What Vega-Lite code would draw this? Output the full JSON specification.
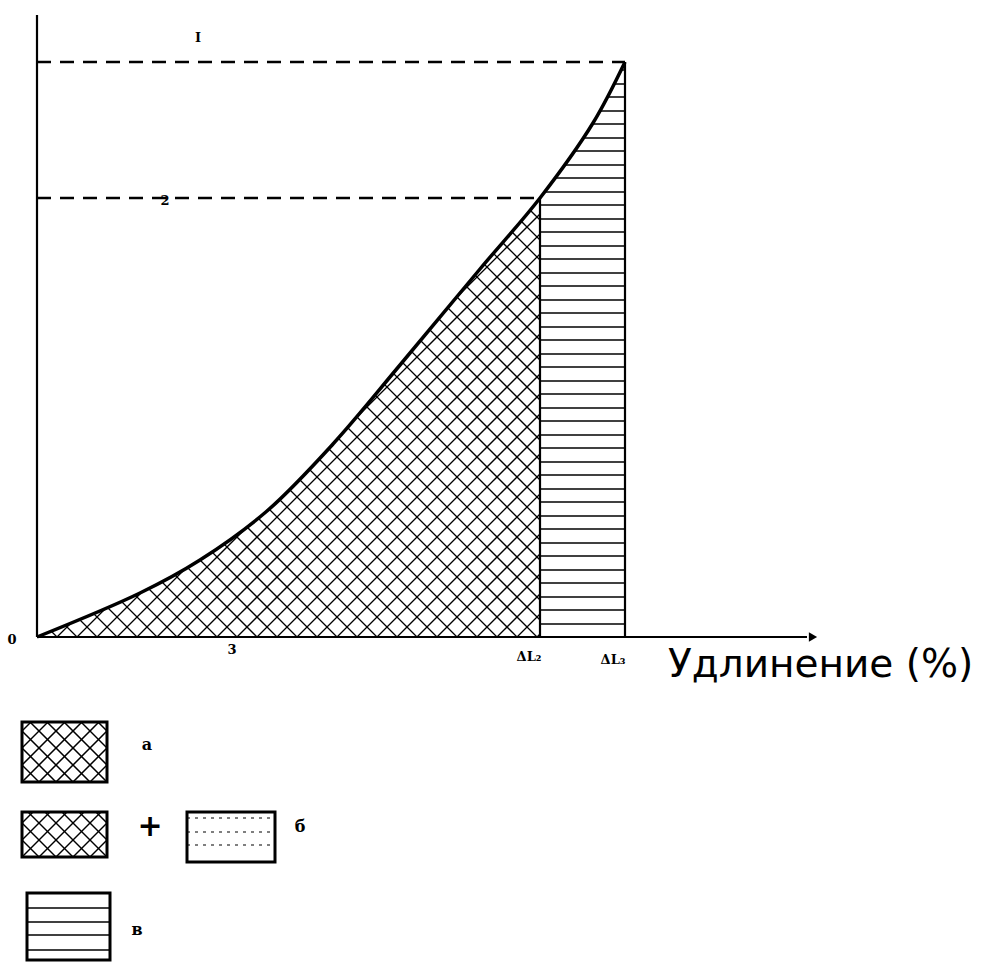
{
  "$schema": "https://vega.github.io/schema/vega-lite/v6.json",
  "width": 780,
  "height": 622,
  "autosize": {"type": "none"},
  "padding": {"left": 37, "top": 15, "right": 178, "bottom": 326},
  "background": "white",
  "config": {"view": {"stroke": null}},
  "datasets": {
    "curve": [
      {"x": 0, "y": 0}, {"x": 10.3, "y": 4.4}, {"x": 16.3, "y": 7.7}, {"x": 23, "y": 12.6},
      {"x": 29.6, "y": 19.3}, {"x": 36.3, "y": 27.2}, {"x": 44.3, "y": 36.8}, {"x": 50.3, "y": 43.9},
      {"x": 55.6, "y": 51.4}, {"x": 58.8, "y": 57.5}
    ],
    "diag": [
      {"x": -44, "y": 0, "x2": 1, "y2": 45}, {"x": -42, "y": 0, "x2": 3, "y2": 45}, {"x": -40, "y": 0, "x2": 5, "y2": 45},
      {"x": -38, "y": 0, "x2": 7, "y2": 45}, {"x": -36, "y": 0, "x2": 9, "y2": 45}, {"x": -34, "y": 0, "x2": 11, "y2": 45},
      {"x": -32, "y": 0, "x2": 13, "y2": 45}, {"x": -30, "y": 0, "x2": 15, "y2": 45}, {"x": -28, "y": 0, "x2": 17, "y2": 45},
      {"x": -26, "y": 0, "x2": 19, "y2": 45}, {"x": -24, "y": 0, "x2": 21, "y2": 45}, {"x": -22, "y": 0, "x2": 23, "y2": 45},
      {"x": -20, "y": 0, "x2": 25, "y2": 45}, {"x": -18, "y": 0, "x2": 27, "y2": 45}, {"x": -16, "y": 0, "x2": 29, "y2": 45},
      {"x": -14, "y": 0, "x2": 31, "y2": 45}, {"x": -12, "y": 0, "x2": 33, "y2": 45}, {"x": -10, "y": 0, "x2": 35, "y2": 45},
      {"x": -8, "y": 0, "x2": 37, "y2": 45}, {"x": -6, "y": 0, "x2": 39, "y2": 45}, {"x": -4, "y": 0, "x2": 41, "y2": 45},
      {"x": -2, "y": 0, "x2": 43, "y2": 45}, {"x": 0, "y": 0, "x2": 45, "y2": 45}, {"x": 2, "y": 0, "x2": 47, "y2": 45},
      {"x": 4, "y": 0, "x2": 49, "y2": 45}, {"x": 6, "y": 0, "x2": 51, "y2": 45}, {"x": 8, "y": 0, "x2": 53, "y2": 45},
      {"x": 10, "y": 0, "x2": 55, "y2": 45}, {"x": 12, "y": 0, "x2": 57, "y2": 45}, {"x": 14, "y": 0, "x2": 59, "y2": 45},
      {"x": 16, "y": 0, "x2": 61, "y2": 45}, {"x": 18, "y": 0, "x2": 63, "y2": 45}, {"x": 20, "y": 0, "x2": 65, "y2": 45},
      {"x": 22, "y": 0, "x2": 67, "y2": 45}, {"x": 24, "y": 0, "x2": 69, "y2": 45}, {"x": 26, "y": 0, "x2": 71, "y2": 45},
      {"x": 28, "y": 0, "x2": 73, "y2": 45}, {"x": 30, "y": 0, "x2": 75, "y2": 45}, {"x": 32, "y": 0, "x2": 77, "y2": 45},
      {"x": 34, "y": 0, "x2": 79, "y2": 45}, {"x": 36, "y": 0, "x2": 81, "y2": 45}, {"x": 38, "y": 0, "x2": 83, "y2": 45},
      {"x": 40, "y": 0, "x2": 85, "y2": 45}, {"x": 42, "y": 0, "x2": 87, "y2": 45}, {"x": 44, "y": 0, "x2": 89, "y2": 45},
      {"x": 46, "y": 0, "x2": 91, "y2": 45}, {"x": 48, "y": 0, "x2": 93, "y2": 45}, {"x": 50, "y": 0, "x2": 95, "y2": 45},
      {"x": 2, "y": 0, "x2": -43, "y2": 45}, {"x": 4, "y": 0, "x2": -41, "y2": 45}, {"x": 6, "y": 0, "x2": -39, "y2": 45},
      {"x": 8, "y": 0, "x2": -37, "y2": 45}, {"x": 10, "y": 0, "x2": -35, "y2": 45}, {"x": 12, "y": 0, "x2": -33, "y2": 45},
      {"x": 14, "y": 0, "x2": -31, "y2": 45}, {"x": 16, "y": 0, "x2": -29, "y2": 45}, {"x": 18, "y": 0, "x2": -27, "y2": 45},
      {"x": 20, "y": 0, "x2": -25, "y2": 45}, {"x": 22, "y": 0, "x2": -23, "y2": 45}, {"x": 24, "y": 0, "x2": -21, "y2": 45},
      {"x": 26, "y": 0, "x2": -19, "y2": 45}, {"x": 28, "y": 0, "x2": -17, "y2": 45}, {"x": 30, "y": 0, "x2": -15, "y2": 45},
      {"x": 32, "y": 0, "x2": -13, "y2": 45}, {"x": 34, "y": 0, "x2": -11, "y2": 45}, {"x": 36, "y": 0, "x2": -9, "y2": 45},
      {"x": 38, "y": 0, "x2": -7, "y2": 45}, {"x": 40, "y": 0, "x2": -5, "y2": 45}, {"x": 42, "y": 0, "x2": -3, "y2": 45},
      {"x": 44, "y": 0, "x2": -1, "y2": 45}, {"x": 46, "y": 0, "x2": 1, "y2": 45}, {"x": 48, "y": 0, "x2": 3, "y2": 45},
      {"x": 50, "y": 0, "x2": 5, "y2": 45}, {"x": 52, "y": 0, "x2": 7, "y2": 45}, {"x": 54, "y": 0, "x2": 9, "y2": 45},
      {"x": 56, "y": 0, "x2": 11, "y2": 45}, {"x": 58, "y": 0, "x2": 13, "y2": 45}, {"x": 60, "y": 0, "x2": 15, "y2": 45},
      {"x": 62, "y": 0, "x2": 17, "y2": 45}, {"x": 64, "y": 0, "x2": 19, "y2": 45}, {"x": 66, "y": 0, "x2": 21, "y2": 45},
      {"x": 68, "y": 0, "x2": 23, "y2": 45}, {"x": 70, "y": 0, "x2": 25, "y2": 45}, {"x": 72, "y": 0, "x2": 27, "y2": 45},
      {"x": 74, "y": 0, "x2": 29, "y2": 45}, {"x": 76, "y": 0, "x2": 31, "y2": 45}, {"x": 78, "y": 0, "x2": 33, "y2": 45},
      {"x": 80, "y": 0, "x2": 35, "y2": 45}, {"x": 82, "y": 0, "x2": 37, "y2": 45}, {"x": 84, "y": 0, "x2": 39, "y2": 45},
      {"x": 86, "y": 0, "x2": 41, "y2": 45}, {"x": 88, "y": 0, "x2": 43, "y2": 45}, {"x": 90, "y": 0, "x2": 45, "y2": 45},
      {"x": 92, "y": 0, "x2": 47, "y2": 45}, {"x": 94, "y": 0, "x2": 49, "y2": 45}
    ],
    "hlines": [
      {"y": 1.3}, {"y": 2.7}, {"y": 4.0}, {"y": 5.4}, {"y": 6.7}, {"y": 8.1}, {"y": 9.4}, {"y": 10.8},
      {"y": 12.1}, {"y": 13.5}, {"y": 14.8}, {"y": 16.2}, {"y": 17.5}, {"y": 18.9}, {"y": 20.2}, {"y": 21.6},
      {"y": 22.9}, {"y": 24.3}, {"y": 25.6}, {"y": 27.0}, {"y": 28.3}, {"y": 29.7}, {"y": 31.0}, {"y": 32.4},
      {"y": 33.7}, {"y": 35.1}, {"y": 36.4}, {"y": 37.8}, {"y": 39.1}, {"y": 40.5}, {"y": 41.8}, {"y": 43.2},
      {"y": 44.5}, {"y": 45.9}, {"y": 47.2}, {"y": 48.6}, {"y": 49.9}, {"y": 51.3}, {"y": 52.6}, {"y": 54.0},
      {"y": 55.3}, {"y": 56.7}
    ],
    "dashed": [
      {"x": 0, "y": 57.5, "x2": 58.8, "y2": 57.5},
      {"x": 0, "y": 43.9, "x2": 50.3, "y2": 43.9}
    ],
    "solid": [
      {"x": 0, "y": 0, "x2": 0, "y2": 62.2},
      {"x": 0, "y": 0, "x2": 77, "y2": 0},
      {"x": 50.3, "y": 0, "x2": 50.3, "y2": 43.9},
      {"x": 58.8, "y": 0, "x2": 58.8, "y2": 57.5}
    ],
    "legendHatch": [
      {"x": -1.5, "y": -9.4, "x2": -0.6, "y2": -8.5}, {"x": -1.5, "y": -11.1, "x2": 1.1, "y2": -8.5},
      {"x": -1.5, "y": -12.8, "x2": 2.8, "y2": -8.5}, {"x": -1.5, "y": -14.5, "x2": 4.5, "y2": -8.5},
      {"x": 0.2, "y": -14.5, "x2": 6.2, "y2": -8.5}, {"x": 1.9, "y": -14.5, "x2": 7, "y2": -9.4},
      {"x": 3.6, "y": -14.5, "x2": 7, "y2": -11.1}, {"x": 5.3, "y": -14.5, "x2": 7, "y2": -12.8},
      {"x": -1.5, "y": -12.8, "x2": 0.2, "y2": -14.5}, {"x": -1.5, "y": -11.1, "x2": 1.9, "y2": -14.5},
      {"x": -1.5, "y": -9.4, "x2": 3.6, "y2": -14.5}, {"x": -0.7, "y": -8.5, "x2": 5.3, "y2": -14.5},
      {"x": 1, "y": -8.5, "x2": 7, "y2": -14.5}, {"x": 2.7, "y": -8.5, "x2": 7, "y2": -12.8},
      {"x": 4.4, "y": -8.5, "x2": 7, "y2": -11.1}, {"x": 6.1, "y": -8.5, "x2": 7, "y2": -9.4},
      {"x": -1.5, "y": -18.6, "x2": -0.4, "y2": -17.5}, {"x": -1.5, "y": -20.3, "x2": 1.3, "y2": -17.5},
      {"x": -1.5, "y": -22, "x2": 3, "y2": -17.5}, {"x": 0.2, "y": -22, "x2": 4.7, "y2": -17.5},
      {"x": 1.9, "y": -22, "x2": 6.4, "y2": -17.5}, {"x": 3.6, "y": -22, "x2": 7, "y2": -18.6},
      {"x": 5.3, "y": -22, "x2": 7, "y2": -20.3},
      {"x": -1.5, "y": -20.3, "x2": 0.2, "y2": -22}, {"x": -1.5, "y": -18.6, "x2": 1.9, "y2": -22},
      {"x": -0.9, "y": -17.5, "x2": 3.6, "y2": -22}, {"x": 0.8, "y": -17.5, "x2": 5.3, "y2": -22},
      {"x": 2.5, "y": -17.5, "x2": 7, "y2": -22}, {"x": 4.2, "y": -17.5, "x2": 7, "y2": -20.3},
      {"x": 5.9, "y": -17.5, "x2": 7, "y2": -18.6},
      {"x": -1, "y": -27.1, "x2": 7.3, "y2": -27.1}, {"x": -1, "y": -28.5, "x2": 7.3, "y2": -28.5},
      {"x": -1, "y": -29.8, "x2": 7.3, "y2": -29.8}, {"x": -1, "y": -31.3, "x2": 7.3, "y2": -31.3}
    ],
    "legendDotted": [
      {"x": 15, "y": -18.1, "x2": 23.8, "y2": -18.1},
      {"x": 15, "y": -19.5, "x2": 23.8, "y2": -19.5},
      {"x": 15, "y": -20.8, "x2": 23.8, "y2": -20.8}
    ],
    "legendBoxes": [
      {"x": -1.5, "y": -14.5, "x2": 7, "y2": -8.5},
      {"x": -1.5, "y": -22, "x2": 7, "y2": -17.5},
      {"x": 15, "y": -22.5, "x2": 23.8, "y2": -17.5},
      {"x": -1, "y": -32.3, "x2": 7.3, "y2": -25.6}
    ],
    "smallLabels": [
      {"x": 16.1, "y": 59.9, "label": "I"},
      {"x": 12.8, "y": 43.6, "label": "2"},
      {"x": 19.5, "y": -1.3, "label": "3"},
      {"x": -2.5, "y": -0.3, "label": "0"},
      {"x": 49.2, "y": -2.0, "label": "ΔL₂"},
      {"x": 57.6, "y": -2.3, "label": "ΔL₃"}
    ],
    "legendLabels": [
      {"x": 11, "y": -10.8, "label": "а"},
      {"x": 26.3, "y": -19.0, "label": "б"},
      {"x": 10, "y": -29.3, "label": "в"}
    ]
  },
  "layer": [
    {
      "data": {"name": "diag"},
      "mark": {"type": "rule", "clip": true, "color": "black", "strokeWidth": 1.3},
      "encoding": {
        "x": {"field": "x", "type": "quantitative", "scale": {"domain": [0, 78]}, "axis": null},
        "y": {"field": "y", "type": "quantitative", "scale": {"domain": [0, 62.2]}, "axis": null},
        "x2": {"field": "x2"},
        "y2": {"field": "y2"}
      }
    },
    {
      "data": {"values": [{}]},
      "mark": {"type": "rect", "fill": "white", "stroke": null},
      "encoding": {
        "x": {"datum": 50.3, "type": "quantitative", "scale": {"domain": [0, 78]}, "axis": null},
        "x2": {"datum": 78},
        "y": {"datum": 0, "type": "quantitative", "scale": {"domain": [0, 62.2]}, "axis": null},
        "y2": {"datum": 62.2}
      }
    },
    {
      "data": {"name": "hlines"},
      "mark": {"type": "rule", "color": "black", "strokeWidth": 1.5},
      "encoding": {
        "x": {"datum": 50.3, "type": "quantitative", "scale": {"domain": [0, 78]}, "axis": null},
        "x2": {"datum": 58.8},
        "y": {"field": "y", "type": "quantitative", "scale": {"domain": [0, 62.2]}, "axis": null}
      }
    },
    {
      "data": {"name": "curve"},
      "mark": {"type": "area", "fill": "white", "interpolate": "catmull-rom"},
      "encoding": {
        "x": {"field": "x", "type": "quantitative", "scale": {"domain": [0, 78]}, "axis": null},
        "y": {"field": "y", "type": "quantitative", "scale": {"domain": [0, 62.2]}, "axis": null},
        "y2": {"datum": 62.2}
      }
    },
    {
      "data": {"name": "curve"},
      "mark": {"type": "line", "color": "black", "strokeWidth": 3.5, "interpolate": "catmull-rom"},
      "encoding": {
        "x": {"field": "x", "type": "quantitative", "scale": {"domain": [0, 78]}, "axis": null},
        "y": {"field": "y", "type": "quantitative", "scale": {"domain": [0, 62.2]}, "axis": null}
      }
    },
    {
      "data": {"name": "dashed"},
      "mark": {"type": "rule", "color": "black", "strokeWidth": 2.5, "strokeDash": [14, 9]},
      "encoding": {
        "x": {"field": "x", "type": "quantitative", "scale": {"domain": [0, 78]}, "axis": null},
        "y": {"field": "y", "type": "quantitative", "scale": {"domain": [0, 62.2]}, "axis": null},
        "x2": {"field": "x2"},
        "y2": {"field": "y2"}
      }
    },
    {
      "data": {"name": "solid"},
      "mark": {"type": "rule", "color": "black", "strokeWidth": 2.2},
      "encoding": {
        "x": {"field": "x", "type": "quantitative", "scale": {"domain": [0, 78]}, "axis": null},
        "y": {"field": "y", "type": "quantitative", "scale": {"domain": [0, 62.2]}, "axis": null},
        "x2": {"field": "x2"},
        "y2": {"field": "y2"}
      }
    },
    {
      "data": {"values": [{}]},
      "mark": {"type": "point", "shape": "triangle-right", "filled": true, "color": "black", "size": 90, "opacity": 1},
      "encoding": {
        "x": {"datum": 77.6, "type": "quantitative", "scale": {"domain": [0, 78]}, "axis": null},
        "y": {"datum": 0, "type": "quantitative", "scale": {"domain": [0, 62.2]}, "axis": null}
      }
    },
    {
      "data": {"name": "legendHatch"},
      "mark": {"type": "rule", "color": "black", "strokeWidth": 1.5},
      "encoding": {
        "x": {"field": "x", "type": "quantitative", "scale": {"domain": [0, 78]}, "axis": null},
        "y": {"field": "y", "type": "quantitative", "scale": {"domain": [0, 62.2]}, "axis": null},
        "x2": {"field": "x2"},
        "y2": {"field": "y2"}
      }
    },
    {
      "data": {"name": "legendDotted"},
      "mark": {"type": "rule", "color": "black", "strokeWidth": 1.2, "strokeDash": [3, 5]},
      "encoding": {
        "x": {"field": "x", "type": "quantitative", "scale": {"domain": [0, 78]}, "axis": null},
        "y": {"field": "y", "type": "quantitative", "scale": {"domain": [0, 62.2]}, "axis": null},
        "x2": {"field": "x2"},
        "y2": {"field": "y2"}
      }
    },
    {
      "data": {"name": "legendBoxes"},
      "mark": {"type": "rect", "fill": null, "fillOpacity": 0, "stroke": "black", "strokeWidth": 3},
      "encoding": {
        "x": {"field": "x", "type": "quantitative", "scale": {"domain": [0, 78]}, "axis": null},
        "y": {"field": "y", "type": "quantitative", "scale": {"domain": [0, 62.2]}, "axis": null},
        "x2": {"field": "x2"},
        "y2": {"field": "y2"}
      }
    },
    {
      "data": {"name": "smallLabels"},
      "mark": {"type": "text", "font": "DejaVu Serif", "fontSize": 13, "fontWeight": "bold", "color": "black", "align": "center", "baseline": "middle"},
      "encoding": {
        "x": {"field": "x", "type": "quantitative", "scale": {"domain": [0, 78]}, "axis": null},
        "y": {"field": "y", "type": "quantitative", "scale": {"domain": [0, 62.2]}, "axis": null},
        "text": {"field": "label"}
      }
    },
    {
      "data": {"name": "legendLabels"},
      "mark": {"type": "text", "font": "DejaVu Serif", "fontSize": 16, "fontWeight": "bold", "color": "black", "align": "center", "baseline": "middle"},
      "encoding": {
        "x": {"field": "x", "type": "quantitative", "scale": {"domain": [0, 78]}, "axis": null},
        "y": {"field": "y", "type": "quantitative", "scale": {"domain": [0, 62.2]}, "axis": null},
        "text": {"field": "label"}
      }
    },
    {
      "data": {"values": [{"x": 11.3, "y": -19.0, "label": "+"}]},
      "mark": {"type": "text", "font": "DejaVu Sans", "fontSize": 30, "fontWeight": "bold", "color": "black", "align": "center", "baseline": "middle"},
      "encoding": {
        "x": {"field": "x", "type": "quantitative", "scale": {"domain": [0, 78]}, "axis": null},
        "y": {"field": "y", "type": "quantitative", "scale": {"domain": [0, 62.2]}, "axis": null},
        "text": {"field": "label"}
      }
    },
    {
      "data": {"values": [{"x": 63.1, "y": -2.8, "label": "Удлинение  (%)"}]},
      "mark": {"type": "text", "font": "DejaVu Sans", "fontSize": 39, "color": "black", "align": "left", "baseline": "middle"},
      "encoding": {
        "x": {"field": "x", "type": "quantitative", "scale": {"domain": [0, 78]}, "axis": null},
        "y": {"field": "y", "type": "quantitative", "scale": {"domain": [0, 62.2]}, "axis": null},
        "text": {"field": "label"}
      }
    }
  ]
}
